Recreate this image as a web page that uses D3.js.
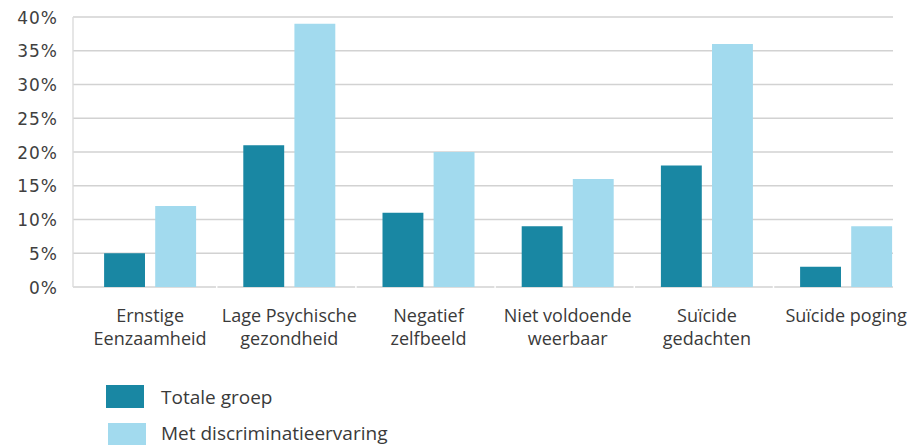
<!DOCTYPE html>
<html>
<head>
<meta charset="utf-8">
<script src="https://cdn.jsdelivr.net/npm/d3@7"></script>
<style>
  body { margin: 0; background: #fff; }
  text { font-family: "Open Sans", Lato, sans-serif; fill: #3a3a3a; }
</style>
</head>
<body>
<div id="chart"></div>
<script>
// Data
//================================
var categories = [
  ["Ernstige", "Eenzaamheid"],
  ["Lage Psychische", "gezondheid"],
  ["Negatief", "zelfbeeld"],
  ["Niet voldoende", "weerbaar"],
  ["Suïcide", "gedachten"],
  ["Suïcide poging"]
];
var seriesNames = ["Totale groep", "Met discriminatieervaring"];
var totaleGroep = [5, 21, 11, 9, 18, 3];
var metDiscriminatie = [12, 39, 20, 16, 36, 9];
var yTicks = [0, 5, 10, 15, 20, 25, 30, 35, 40];
var colors = ["#1987a3", "#a2daee"];

var svgWidth = 915;
var svgHeight = 445;

var svg = d3.select("#chart")
  .append("svg")
  .attr("width", svgWidth)
  .attr("height", svgHeight);

var plotLeft = 73, plotRight = 893;

// scales
var yScale = d3.scaleLinear()
  .domain([0, 40])
  .range([287, 17]);

var catKeys = categories.map(d => d.join(" "));

var x0 = d3.scaleBand()
  .domain(catKeys)
  .range([80.5, 80.5 + 139.2 * 6]);

var x1 = d3.scaleBand()
  .domain(seriesNames)
  .range([x0.bandwidth() / 2 - 46, x0.bandwidth() / 2 + 46])
  .paddingInner(0.2);

// gridlines
svg.append("g")
  .selectAll("line")
  .data(yTicks)
  .enter()
  .append("line")
  .attr("x1", plotLeft)
  .attr("x2", plotRight)
  .attr("y1", d => yScale(d))
  .attr("y2", d => yScale(d))
  .attr("stroke", "#d2d2d2")
  .attr("stroke-width", 1.6);

// left axis line
svg.append("line")
  .attr("x1", plotLeft)
  .attr("x2", plotLeft)
  .attr("y1", yScale(40))
  .attr("y2", yScale(0))
  .attr("stroke", "#dcdcdc")
  .attr("stroke-width", 1.4);

// y axis labels
var leftAxis = d3.axisLeft(yScale)
  .tickValues(yTicks)
  .tickSize(0)
  .tickPadding(0)
  .tickFormat(d => d + "%");

var yAxis = svg.append("g")
  .attr("transform", "translate(58,0)")
  .call(leftAxis);
yAxis.select(".domain").remove();
yAxis.selectAll("text")
  .style("font-family", "'DejaVu Sans', sans-serif")
  .style("font-size", "17px")
  .style("letter-spacing", "1px")
  .attr("dy", "0.36em")
  .style("fill", "#404040");

// bars
var rows = catKeys.map((k, i) => ({ key: k, values: [totaleGroep[i], metDiscriminatie[i]] }));

var groups = svg.selectAll(".group")
  .data(rows)
  .enter()
  .append("g")
  .attr("class", "group")
  .attr("transform", d => `translate(${x0(d.key)},0)`);

groups.selectAll("rect")
  .data(d => d.values.map((v, j) => ({ name: seriesNames[j], value: v, j: j })))
  .enter()
  .append("rect")
  .attr("x", d => x1(d.name))
  .attr("width", x1.bandwidth())
  .attr("y", d => yScale(d.value))
  .attr("height", d => yScale(0) - yScale(d.value))
  .attr("fill", d => colors[d.j]);

// small white gaps on baseline at category boundaries
svg.append("g")
  .selectAll("line")
  .data(catKeys.slice(1))
  .enter()
  .append("line")
  .attr("x1", d => x0(d) - 3)
  .attr("x2", d => x0(d) - 3)
  .attr("y1", yScale(0) - 1)
  .attr("y2", yScale(0) + 1.5)
  .attr("stroke", "#fff")
  .attr("stroke-width", 1.5);

// category labels
var labels = svg.append("g")
  .selectAll("text")
  .data(categories)
  .enter()
  .append("text")
  .attr("x", (d, i) => x0(catKeys[i]) + x0.bandwidth() / 2)
  .attr("y", 322)
  .attr("text-anchor", "middle")
  .style("font-size", "18px");

labels.selectAll("tspan")
  .data(d => d)
  .enter()
  .append("tspan")
  .attr("x", function() { return d3.select(this.parentNode).attr("x"); })
  .attr("dy", (d, i) => i === 0 ? 0 : 23)
  .text(d => d);

// legend
var legend = svg.append("g");
seriesNames.forEach(function(name, i) {
  legend.append("rect")
    .attr("x", 106 + i * 2)
    .attr("y", 385 + i * 38)
    .attr("width", 38)
    .attr("height", 23)
    .attr("fill", colors[i]);
  legend.append("text")
    .attr("x", 161)
    .attr("y", 404 + i * 36)
    .style("font-size", "19px")
    .text(name);
});
</script>
</body>
</html>
